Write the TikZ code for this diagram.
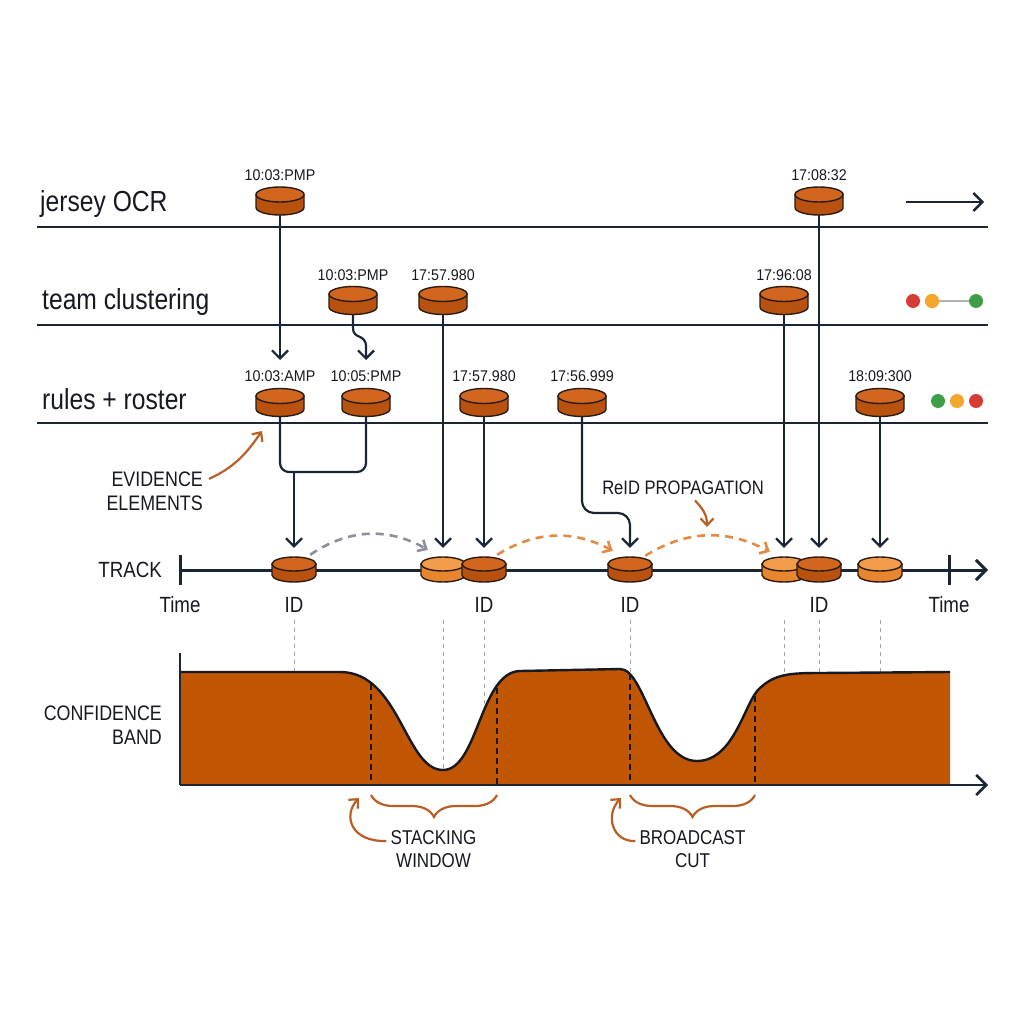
\documentclass[tikz,border=0pt]{standalone}
\usepackage{fontspec}
\setmainfont{Liberation Sans}[FakeStretch=0.85]
\newfontfamily\tsfont{Liberation Sans}[FakeStretch=0.92]
\usetikzlibrary{arrows.meta,decorations.pathreplacing}
\definecolor{navy}{HTML}{1B2536}
\definecolor{ink}{HTML}{16191F}
\definecolor{diskline}{HTML}{2A1C12}
\definecolor{dtop}{HTML}{D2661E}
\definecolor{dbody}{HTML}{B8520E}
\definecolor{ltop}{HTML}{F39D4C}
\definecolor{lbody}{HTML}{E8862F}
\definecolor{bandc}{HTML}{C05504}
\definecolor{anno}{HTML}{B85F26}
\definecolor{reidc}{HTML}{E38B45}
\definecolor{grayarcc}{HTML}{8C9099}
\definecolor{tlred}{HTML}{D63B34}
\definecolor{tlorange}{HTML}{F2A62B}
\definecolor{tlgreen}{HTML}{3F9E48}
\newcommand\drawdisk[8]{%
  \begin{scope}[shift={(#2,#3)}]
    \filldraw[fill=#8,draw=diskline,line width=1.4pt] (-#4,#6) -- (-#4,-#6) arc[start angle=180,end angle=360,x radius=#4pt,y radius=#5pt] -- (#4,#6) -- cycle;
    \filldraw[fill=#7,draw=diskline,line width=1.4pt] (0,#6) ellipse[x radius=#4pt,y radius=#5pt];
  \end{scope}
  \node[inner sep=0pt,minimum width=2*#4pt,minimum height=2*#5pt+2*#6pt] (#1) at (#2,#3) {};
}
\newcommand\topdisk[3]{\drawdisk{#1}{#2}{#3}{24}{7.5}{6.5}{dtop}{dbody}}
\newcommand\trkdisk[4]{\drawdisk{#1}{#2}{#3}{22}{7}{5.5}{#4top}{#4body}}
\tikzset{
  laneline/.style={navy,line width=2.6pt},
  conn/.style={navy,line width=2.2pt,-{Straight Barb[length=8pt,width=16pt]}},
  plainconn/.style={navy,line width=2.2pt},
  ts/.style={font=\tsfont\fontsize{15.5}{17}\selectfont,text=ink,anchor=base,inner sep=0pt},
  lanetitle/.style={font=\fontsize{29}{32}\selectfont,text=ink,anchor=base west,inner sep=0pt},
  axislabel/.style={font=\fontsize{22}{24}\selectfont,text=ink,anchor=base,inner sep=0pt},
  caplabel/.style={font=\fontsize{21}{24}\selectfont,text=ink,inner sep=0pt},
  orarrow/.style={anno,line width=2.2pt,-{Straight Barb[length=7pt,width=13pt]}},
  reidarc/.style={reidc,line width=2.6pt,dash pattern=on 8pt off 6pt,-{Straight Barb[length=7pt,width=13pt]}},
  grayarc/.style={grayarcc,line width=2.6pt,dash pattern=on 8pt off 6pt,-{Straight Barb[length=7pt,width=13pt]}},
  guide/.style={gray!70,line width=1pt,dash pattern=on 4pt off 4pt},
  winline/.style={ink,line width=1.6pt,dash pattern=on 6pt off 4pt},
  tl/.style={circle,inner sep=0pt,minimum size=14pt},
  bracestyle/.style={anno,line width=2.2pt,decorate,decoration={brace,mirror,amplitude=22pt}},
}
\begin{document}
\begin{tikzpicture}[x=1pt,y=1pt]
\fill[white] (0,0) rectangle (1024,-1024);
\useasboundingbox (0,0) rectangle (1024,-1024);

% lane lines
\draw[laneline] (37,-227) -- (988,-227);
\draw[laneline] (37,-325) -- (988,-325);
\draw[laneline] (37,-423) -- (988,-423);

% lane titles
\node[lanetitle] (tjersey) at (40,-212) {jersey OCR};
\node[lanetitle] (tteam) at (42,-309) {team clustering};
\node[lanetitle] (trules) at (42,-409) {rules + roster};

% guide dashed lines
\foreach \gx in {294,443,484,630,784,819,880}
  \draw[guide] (\gx,-620) -- (\gx,-785);

% confidence band
\fill[bandc] (180,-785) -- (180,-672) -- (340,-672) .. controls (400,-672) and (405,-770) .. (443,-770) .. controls (478,-770) and (480,-672) .. (520,-671) -- (620,-669) .. controls (645,-669) and (655,-761) .. (697,-761) .. controls (735,-761) and (745,-700) .. (760,-688) .. controls (775,-674) and (790,-673) .. (820,-673) -- (950,-672) -- (950,-785) -- cycle;
\draw[ink,line width=2.4pt] (180,-672) -- (340,-672) .. controls (400,-672) and (405,-770) .. (443,-770) .. controls (478,-770) and (480,-672) .. (520,-671) -- (620,-669) .. controls (645,-669) and (655,-761) .. (697,-761) .. controls (735,-761) and (745,-700) .. (760,-688) .. controls (775,-674) and (790,-673) .. (820,-673) -- (950,-672);
\draw[winline] (371,-684) -- (371,-785);
\draw[winline] (497,-688) -- (497,-785);
\draw[winline] (630,-674) -- (630,-785);
\draw[winline] (755,-696) -- (755,-785);
\coordinate (bandtop) at (180,-653);
\coordinate (bando) at (180,-785);
\coordinate (bandend) at (988,-785);
\draw[navy,line width=2.6pt] (bandtop) -- (bando);
\draw[navy,line width=2.6pt,-{Straight Barb[length=10pt,width=20pt]}] (bando) -- (bandend);

% track axis
\coordinate (trs) at (180,-570);
\coordinate (tre) at (988,-570);
\draw[navy,line width=3pt,-{Straight Barb[length=10pt,width=20pt]}] (trs) -- (tre);
\draw[navy,line width=3pt] (180,-555) -- (180,-585);
\draw[navy,line width=3pt] (949,-555) -- (949,-585);

% top disks
\topdisk{a1}{280}{-201}
\topdisk{a2}{819}{-201}
\topdisk{tc1}{353}{-300.5}
\topdisk{tc2}{443}{-300.5}
\topdisk{tc3}{784}{-300.5}
\topdisk{rr1}{280}{-402.5}
\topdisk{rr2}{366}{-402.5}
\topdisk{rr3}{484}{-402.5}
\topdisk{rr4}{582}{-402.5}
\topdisk{rr5}{880}{-402.5}

% track disks
\trkdisk{t1}{294}{-569.5}{d}
\trkdisk{t2}{443}{-569.5}{l}
\trkdisk{t3}{484}{-569.5}{d}
\trkdisk{t4}{630}{-569.5}{d}
\trkdisk{t5}{784}{-569.5}{l}
\trkdisk{t6}{819}{-569.5}{d}
\trkdisk{t7}{880}{-569.5}{l}

% timestamps
\node[ts] (la1) at (280,-181) {10:03:PMP};
\node[ts] (la2) at (819,-181) {17:08:32};
\node[ts] (ltc1) at (353,-280) {10:03:PMP};
\node[ts] (ltc2) at (443,-280) {17:57.980};
\node[ts] (ltc3) at (784,-280) {17:96:08};
\node[ts] (lrr1) at (280,-381.5) {10:03:AMP};
\node[ts] (lrr2) at (366,-381.5) {10:05:PMP};
\node[ts] (lrr3) at (484,-381.5) {17:57.980};
\node[ts] (lrr4) at (582,-381.5) {17:56.999};
\node[ts] (lrr5) at (880,-381.5) {18:09:300};

% connectors
\coordinate (a1tip) at (280,-360);
\coordinate (tc1tip) at (366,-360);
\draw[conn] (a1.south) -- (a1tip);
\draw[conn] (tc1.south) -- (353,-328) .. controls (353,-340) and (366,-333) .. (366,-347) -- (tc1tip);
\coordinate (brk) at (294,-472);
\draw[plainconn,rounded corners=9pt] (rr1.south) -- (280,-472) -- (366,-472) -- (rr2.south);
\draw[conn,shorten >=9pt] (brk) -- (t1.north);
\draw[conn,shorten >=9pt] (tc2.south) -- (t2.north);
\draw[conn,shorten >=9pt] (rr3.south) -- (t3.north);
\draw[conn,shorten >=9pt,rounded corners=12pt] (rr4.south) -- (582,-513) -- (630,-513) -- (t4.north);
\draw[conn,shorten >=9pt] (tc3.south) -- (t5.north);
\draw[conn,shorten >=9pt] (a2.south) -- (t6.north);
\draw[conn,shorten >=9pt] (rr5.south) -- (t7.north);

% track arcs
\draw[grayarc] ([xshift=-6pt,yshift=2pt]t1.north east) to[bend left=32] ([xshift=7pt,yshift=7pt]t2.north west);
\draw[reidarc] ([xshift=-9pt,yshift=2pt]t3.north east) to[bend left=30] ([xshift=5pt,yshift=6pt]t4.north west);
\draw[reidarc] ([xshift=-7pt,yshift=1pt]t4.north east) to[bend left=30] ([xshift=8pt,yshift=5pt]t5.north west);

% axis labels
\node[axislabel,anchor=base east] (ltrack) at (162,-577) {TRACK};
\node[axislabel] (ltime1) at (180,-612) {Time};
\node[axislabel] (ltime2) at (949,-612) {Time};
\node[axislabel] (id1) at (294,-612) {ID};
\node[axislabel] (id2) at (484,-612) {ID};
\node[axislabel] (id3) at (630,-612) {ID};
\node[axislabel] (id4) at (819,-612) {ID};

% lane right side markers
\coordinate (lanea) at (906,-202);
\coordinate (laneb) at (984,-202);
\draw[navy,line width=2.4pt,-{Straight Barb[length=9pt,width=18pt]}] (lanea) -- (laneb);
\node[tl,fill=tlorange] (o1) at (932,-301) {};
\node[tl,fill=tlgreen] (g1) at (976,-301) {};
\draw[gray!60,line width=2pt] (o1) -- (g1);
\node[tl,fill=tlred] (r1) at (913,-301) {};
\node[tl,fill=tlorange] (o1b) at (932,-301) {};
\node[tl,fill=tlgreen] (g2) at (938,-401) {};
\node[tl,fill=tlorange] (o2) at (957,-401) {};
\node[tl,fill=tlred] (r2) at (976,-401) {};

% evidence elements
\node[caplabel,align=right,anchor=east] (ev) at (203,-491.5) {EVIDENCE\\ELEMENTS};
\coordinate (evtip) at (262,-431);
\draw[orarrow] ([xshift=6pt,yshift=-7pt]ev.north east) .. controls (238,-466) and (250,-448) .. (evtip);

% ReID propagation
\node[caplabel,font=\fontsize{19.5}{22}\selectfont,anchor=base] (reid) at (683,-494) {ReID PROPAGATION};
\coordinate (reidtip) at (707,-527);
\draw[orarrow] ([xshift=12pt,yshift=-6pt]reid.south) .. controls (702,-508) and (707,-514) .. (reidtip);

% confidence band label
\node[caplabel,align=right,anchor=east] (conf) at (162,-725.5) {CONFIDENCE\\BAND};

% braces and window labels
\draw[bracestyle] (371,-795) -- (497,-795);
\draw[bracestyle] (630,-795) -- (755,-795);
\node[caplabel,font=\fontsize{20}{23}\selectfont,align=center] (sw) at (433.5,-849) {STACKING\\WINDOW};
\node[caplabel,font=\fontsize{20}{23}\selectfont,align=center] (bc) at (692.5,-849) {BROADCAST\\CUT};
\coordinate (swtip) at (359,-798);
\coordinate (bctip) at (621,-798);
\draw[orarrow] ([xshift=-4pt,yshift=8pt]sw.west) .. controls (350,-842) and (343,-815) .. (swtip);
\draw[orarrow] ([xshift=-4pt,yshift=8pt]bc.west) .. controls (612,-842) and (605,-815) .. (bctip);
\end{tikzpicture}
\end{document}
